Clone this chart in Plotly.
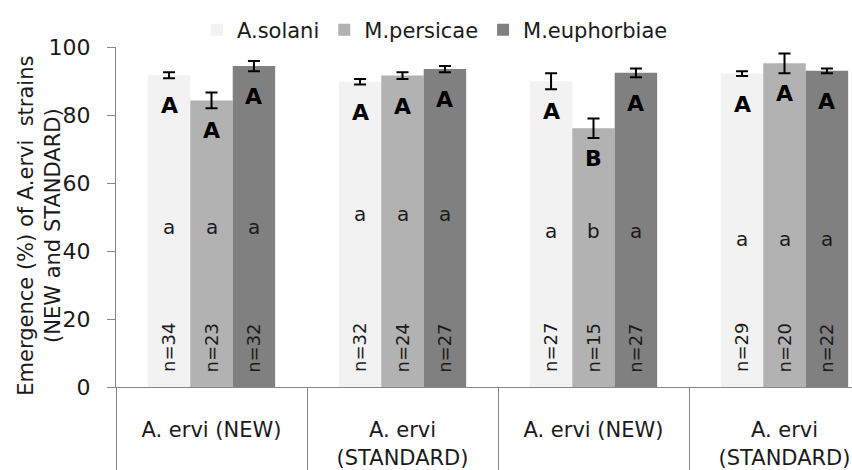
import plotly.graph_objects as go

# Emergence (%) of A. ervi strains on three host/aphid combinations
groups = ["A. ervi (NEW)", "A. ervi<br>(STANDARD)", "A. ervi (NEW)", "A. ervi<br>(STANDARD)"]
series_names = ["A.solani", "M.persicae", "M.euphorbiae"]

solani = [91.7, 89.8, 89.9, 92.2]
persicae = [84.3, 91.6, 76.1, 95.2]
euphorbiae = [94.4, 93.5, 92.4, 93.0]

solani_err = [0.9, 0.8, 2.35, 0.7]
persicae_err = [2.35, 1.0, 2.9, 2.9]
euphorbiae_err = [1.5, 0.9, 1.3, 0.7]

# significance letters (upper case: within strain, lower case: between strains)
solani_upper = ["A", "A", "A", "A"]
persicae_upper = ["A", "A", "B", "A"]
euphorbiae_upper = ["A", "A", "A", "A"]
solani_lower = ["a", "a", "a", "a"]
persicae_lower = ["a", "a", "b", "a"]
euphorbiae_lower = ["a", "a", "a", "a"]

# sample sizes
solani_n = [34, 32, 27, 29]
persicae_n = [23, 24, 15, 20]
euphorbiae_n = [32, 27, 27, 22]

values = [solani, persicae, euphorbiae]
errors = [solani_err, persicae_err, euphorbiae_err]
uppers = [solani_upper, persicae_upper, euphorbiae_upper]
lowers = [solani_lower, persicae_lower, euphorbiae_lower]
counts = [solani_n, persicae_n, euphorbiae_n]
colors = ["#f2f2f2", "#b2b2b2", "#808080"]

FONT = "DejaVu Sans"
TXT = "#1a1a1a"
AXIS = "#868686"

x = list(range(len(groups)))
bargap = 1 / 3
bar_w = (1 - bargap) / len(series_names)

fig = go.Figure()
for k, name in enumerate(series_names):
    fig.add_trace(go.Bar(
        x=x, y=values[k], name=name,
        marker=dict(color=colors[k], line=dict(width=0)),
        error_y=dict(type="data", array=errors[k], color="black", thickness=2, width=6),
    ))

# text labels on the bars
lower_y = [47, 51, 46, 43.5]
annotations = []
for k in range(len(series_names)):
    off = (k - 1) * bar_w
    for i in x:
        xi = i + off
        annotations.append(dict(x=xi, y=values[k][i] - 9, text=uppers[k][i], showarrow=False,
                                font=dict(family=FONT, size=22, color="black", weight="bold"),
                                xanchor="center", yanchor="middle"))
        annotations.append(dict(x=xi, y=lower_y[i], text=lowers[k][i], showarrow=False,
                                font=dict(family=FONT, size=20, color=TXT),
                                xanchor="center", yanchor="middle"))
        annotations.append(dict(x=xi, y=11.5, text=f"n={counts[k][i]}", showarrow=False,
                                textangle=-90, font=dict(family=FONT, size=18, color=TXT),
                                xanchor="center", yanchor="middle"))

# y-axis title
annotations.append(dict(xref="paper", yref="paper", x=-0.105, y=0.4735,
                        text="Emergence (%) of A.ervi  strains<br>(NEW and STANDARD)",
                        textangle=-90, showarrow=False, xanchor="center", yanchor="middle",
                        font=dict(family=FONT, size=21, color=TXT)))

fig.update_layout(
    width=852, height=470,
    margin=dict(l=116, r=0, t=47, b=83),
    paper_bgcolor="white", plot_bgcolor="white",
    barmode="group", bargap=bargap, bargroupgap=0,
    font=dict(family=FONT, color=TXT),
    showlegend=True,
    legend=dict(orientation="h", x=0.11, y=1.05, xanchor="left", yanchor="middle",
                font=dict(family=FONT, size=21, color=TXT), bgcolor="rgba(0,0,0,0)",
                itemclick=False),
    annotations=annotations,
    xaxis=dict(
        range=[-0.5, -0.5 + 736 / 191],
        tickmode="array", tickvals=x, ticktext=groups,
        ticks="", showgrid=False, zeroline=False,
        showline=True, linecolor=AXIS, linewidth=1,
        tickfont=dict(family=FONT, size=21, color=TXT),
        ticklabelstandoff=24,
        minor=dict(tickmode="array", tickvals=[i - 0.5 for i in x], ticks="outside",
                   ticklen=83, tickcolor=AXIS, tickwidth=1, showgrid=False),
    ),
    yaxis=dict(
        range=[0, 100], tickvals=[0, 20, 40, 60, 80, 100],
        ticks="outside", ticklen=8, tickcolor=AXIS, tickwidth=1,
        showgrid=False, zeroline=False,
        showline=True, linecolor=AXIS, linewidth=1,
        tickfont=dict(family=FONT, size=22, color=TXT),
        ticklabelstandoff=12,
    ),
)

fig.write_html("out.html")
